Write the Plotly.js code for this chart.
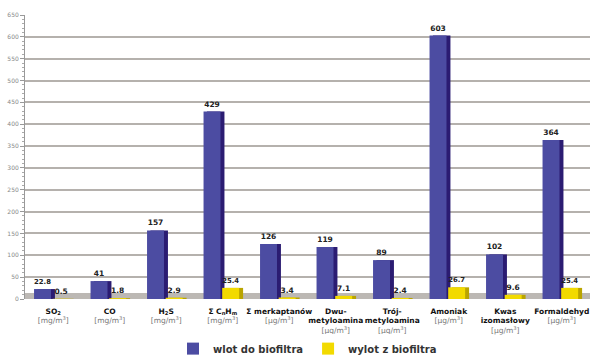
<!DOCTYPE html>
<html>
<head>
<meta charset="utf-8">
<script src="https://cdn.plot.ly/plotly-3.0.1.min.js"></script>
<style>html,body{margin:0;padding:0;background:#fff;}#chart{width:593px;height:355px;}</style>
</head>
<body>
<div id="chart"></div>
<script>
var categories = ["SO2", "CO", "H2S", "CnHm", "merkaptany", "Dwumetyloamina", "Trojmetyloamina", "Amoniak", "Kwas izomaslowy", "Formaldehyd"];
var tickLabels = [
  "<b>SO<sub>2</sub></b><br><span style='color:#777'>[mg/m<sup>3</sup>]</span>",
  "<b>CO</b><br><span style='color:#777'>[mg/m<sup>3</sup>]</span>",
  "<b>H<sub>2</sub>S</b><br><span style='color:#777'>[mg/m<sup>3</sup>]</span>",
  "<b>Σ C<sub>n</sub>H<sub>m</sub></b><br><span style='color:#777'>[mg/m<sup>3</sup>]</span>",
  "<b>Σ merkaptanów</b><br><span style='color:#777'>[µg/m<sup>3</sup>]</span>",
  "<b>Dwu-</b><br><b>metyloamina</b><br><span style='color:#777'>[µg/m<sup>3</sup>]</span>",
  "<b>Trój-</b><br><b>metyloamina</b><br><span style='color:#777'>[µg/m<sup>3</sup>]</span>",
  "<b>Amoniak</b><br><span style='color:#777'>[µg/m<sup>3</sup>]</span>",
  "<b>Kwas</b><br><b>izomasłowy</b><br><span style='color:#777'>[µg/m<sup>3</sup>]</span>",
  "<b>Formaldehyd</b><br><span style='color:#777'>[µg/m<sup>3</sup>]</span>"
];
var wlot = [22.8, 41, 157, 429, 126, 119, 89, 603, 102, 364];
var wylot = [0.5, 1.8, 2.9, 25.4, 3.4, 7.1, 2.4, 26.7, 9.6, 25.4];
var seriesNames = ["wlot do biofiltra", "wylot z biofiltra"];
var yTicks = [0, 50, 100, 150, 200, 250, 300, 350, 400, 450, 500, 550, 600, 650];

var blueFront = "#4c4ca2", blueSide = "#2b1c72";
var yelFront = "#f2da00", yelSide = "#b9a400";

function depth(vals, color, off) {
  return {type: "bar", x: categories, y: vals, offset: off, width: 0.31,
    marker: {color: color}, showlegend: false, hoverinfo: "skip"};
}
function front(vals, color, off, name) {
  return {type: "bar", x: categories, y: vals, offset: off, width: 0.3, name: name,
    marker: {color: color},
    text: vals.map(String), textposition: "outside", cliponaxis: false,
    textfont: {family: "DejaVu Sans", size: 7.5, color: "#222", weight: "bold"}};
}

var data = [
  depth(wlot, blueSide, -0.28),
  front(wlot, blueFront, -0.34, seriesNames[0]),
  depth(wylot, yelSide, 0.05),
  front(wylot, yelFront, -0.01, seriesNames[1])
];

var layout = {
  width: 593, height: 355,
  margin: {l: 25, r: 3, t: 15, b: 56, autoexpand: false},
  paper_bgcolor: "#fff", plot_bgcolor: "#fff",
  barmode: "overlay",
  showlegend: true,
  legend: {orientation: "h", x: 0.5, xanchor: "center", yref: "container", y: 0.018, yanchor: "middle",
    font: {family: "DejaVu Sans", size: 10, color: "#333", weight: "bold"},
    itemwidth: 30, traceorder: "normal", tracegroupgap: 0},
  xaxis: {type: "category", range: [-0.5, 9.5], tickvals: categories, ticktext: tickLabels,
    tickangle: 0, showgrid: false, zeroline: false, showline: false, ticks: "",
    ticklabelstandoff: 6, automargin: false,
    tickfont: {family: "DejaVu Sans", size: 7.5, color: "#111"}},
  yaxis: {range: [0, 650], tickvals: yTicks, ticktext: yTicks.map(String), automargin: false,
    showgrid: true, gridcolor: "#b5b1ad", gridwidth: 2, zeroline: false,
    showline: true, linecolor: "#999", linewidth: 1,
    ticks: "outside", ticklen: 4, tickcolor: "#999",
    minor: {dtick: 10, ticks: "outside", ticklen: 2, tickcolor: "#aaa", showgrid: false},
    tickfont: {family: "DejaVu Sans", size: 6, color: "#888"}},
  shapes: [{type: "rect", xref: "paper", yref: "y", x0: 0, x1: 1, y0: 0, y1: 14,
    fillcolor: "#bcb8b4", line: {width: 0}, layer: "below"}]
};

Plotly.newPlot("chart", data, layout, {displayModeBar: false, staticPlot: true});
</script>
</body>
</html>
